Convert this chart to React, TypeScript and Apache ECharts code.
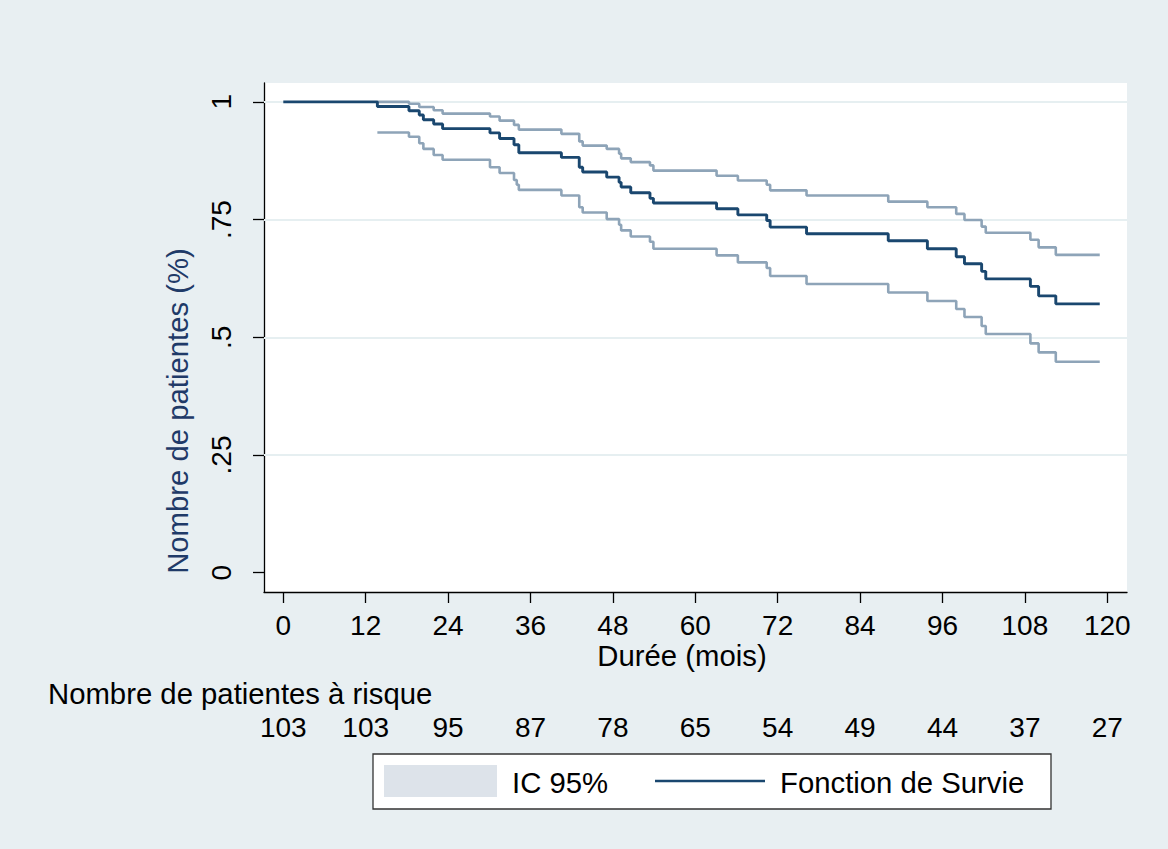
import React, { useEffect, useRef } from "react";
import * as echarts from "echarts";

const xTicks = [0, 12, 24, 36, 48, 60, 72, 84, 96, 108, 120];
const yTicks = [0, 0.25, 0.5, 0.75, 1];
const gridLevels = [0.25, 0.5, 0.75, 1];
const atRisk = [103, 103, 95, 87, 78, 65, 54, 49, 44, 37, 27];

const survival: [number, number][] = [
  [0, 1], [13.7, 0.99], [18.3, 0.981], [19.8, 0.972], [20.4, 0.962], [21.9, 0.953],
  [23.2, 0.943], [30.1, 0.934], [31.5, 0.922], [33.6, 0.909], [34.3, 0.892],
  [40.5, 0.882], [43.1, 0.861], [43.6, 0.851], [47.1, 0.84], [48.9, 0.829],
  [49.2, 0.819], [50.6, 0.807], [53.4, 0.795], [53.9, 0.785], [63.1, 0.773],
  [66.2, 0.76], [70.4, 0.748], [70.9, 0.734], [76.2, 0.72], [88.1, 0.705],
  [93.8, 0.688], [98.0, 0.671], [99.2, 0.656], [101.7, 0.64], [102.3, 0.624],
  [108.8, 0.608], [110.0, 0.588], [112.5, 0.571], [118.9, 0.571],
];

const upperCI: [number, number][] = [
  [13.7, 1.0], [18.3, 0.996], [19.8, 0.989], [21.9, 0.982], [23.2, 0.975],
  [30.1, 0.969], [31.5, 0.96], [33.6, 0.951], [34.3, 0.941], [40.5, 0.932],
  [43.1, 0.916], [43.6, 0.907], [47.1, 0.9], [48.9, 0.89], [49.2, 0.88],
  [50.6, 0.872], [53.4, 0.865], [53.9, 0.854], [63.1, 0.843], [66.2, 0.833],
  [70.4, 0.824], [70.9, 0.812], [76.2, 0.801], [88.1, 0.788], [93.8, 0.776],
  [98.0, 0.762], [99.2, 0.749], [101.7, 0.735], [102.3, 0.722], [108.8, 0.707],
  [110.0, 0.691], [112.5, 0.675], [118.9, 0.675],
];

const lowerCI: [number, number][] = [
  [13.7, 0.935], [18.3, 0.926], [19.8, 0.912], [20.4, 0.9], [21.9, 0.887],
  [23.2, 0.877], [30.1, 0.861], [31.5, 0.849], [33.6, 0.834], [34.0, 0.824],
  [34.3, 0.813], [40.5, 0.801], [43.1, 0.776], [43.6, 0.765], [47.1, 0.751],
  [48.9, 0.739], [49.2, 0.727], [50.6, 0.714], [53.4, 0.703], [53.9, 0.688],
  [63.1, 0.674], [66.2, 0.659], [70.4, 0.647], [70.9, 0.63], [76.2, 0.613],
  [88.1, 0.595], [93.8, 0.577], [98.0, 0.56], [99.2, 0.543], [101.7, 0.524],
  [102.3, 0.507], [108.8, 0.487], [110.0, 0.468], [112.5, 0.448], [118.9, 0.448],
];

const BG = "#e8eff2";
const NAVY = "#1a476f";
const CI_COLOR = "#8ea4b8";
const FONT = "'Liberation Sans', Arial, sans-serif";
const TXT = 29.3;

export default function App() {
  const ref = useRef<HTMLDivElement>(null);
  useEffect(() => {
    if (!ref.current) return;
    const chart = echarts.init(ref.current, undefined, { renderer: "svg" });
    const fmtY = (v: number) =>
      v === 0 ? "0" : v === 1 ? "1" : String(v).replace(/^0/, "");
    chart.setOption({
      animation: false,
      backgroundColor: BG,
      textStyle: { fontFamily: FONT },
      grid: {
        left: 264,
        top: 83,
        width: 863,
        height: 509,
        show: true,
        backgroundColor: "#ffffff",
        borderWidth: 0,
        containLabel: false,
      },
      xAxis: [
        {
          type: "value",
          min: -2.81,
          max: 122.87,
          axisLine: { show: true, onZero: false, lineStyle: { color: "#000", width: 1.3 } },
          axisTick: {
            show: true,
            customValues: xTicks,
            length: 11,
            lineStyle: { color: "#000", width: 1.3 },
          },
          axisLabel: {
            customValues: xTicks,
            fontSize: 28,
            color: "#000",
            margin: 19,
            fontFamily: FONT,
          },
          splitLine: { show: false },
        },
        {
          type: "value",
          position: "bottom",
          min: -2.81,
          max: 122.87,
          offset: 102,
          axisLine: { show: false },
          axisTick: { show: false },
          axisLabel: {
            customValues: xTicks,
            fontSize: 28,
            color: "#000",
            margin: 19,
            fontFamily: FONT,
            formatter: (v: number) => String(atRisk[Math.round(v / 12)]),
          },
          splitLine: { show: false },
        },
      ],
      yAxis: {
        type: "value",
        min: -0.041,
        max: 1.04,
        axisLine: { show: true, onZero: false, lineStyle: { color: "#000", width: 1.3 } },
        axisTick: {
          show: true,
          customValues: yTicks,
          length: 11,
          lineStyle: { color: "#000", width: 1.3 },
        },
        axisLabel: {
          customValues: yTicks,
          rotate: 90,
          fontSize: 28,
          color: "#000",
          margin: 29,
          fontFamily: FONT,
          formatter: fmtY,
        },
        splitLine: { show: false },
      },
      series: [
        {
          name: "IC 95% haut",
          type: "line",
          step: "end",
          data: upperCI,
          showSymbol: false,
          lineStyle: { color: CI_COLOR, width: 2.6 },
          itemStyle: { color: CI_COLOR },
          markLine: {
            silent: true,
            z: 1,
            symbol: ["none", "none"],
            label: { show: false },
            lineStyle: { color: "#e6eff1", width: 2, type: "solid" },
            data: gridLevels.map((v) => ({ yAxis: v })),
          },
          z: 2,
        },
        {
          name: "IC 95% bas",
          type: "line",
          step: "end",
          data: lowerCI,
          showSymbol: false,
          lineStyle: { color: CI_COLOR, width: 2.6 },
          itemStyle: { color: CI_COLOR },
          z: 2,
        },
        {
          name: "Fonction de Survie",
          type: "line",
          step: "end",
          data: survival,
          showSymbol: false,
          lineStyle: { color: NAVY, width: 2.9 },
          itemStyle: { color: NAVY },
          z: 3,
        },
      ],
      graphic: [
        {
          type: "text",
          x: 177,
          y: 411,
          rotation: Math.PI / 2,
          style: {
            text: "Nombre de patientes (%)",
            fontSize: TXT,
            fontFamily: FONT,
            fill: "#1f3a68",
            align: "center",
            verticalAlign: "middle",
          },
        },
        {
          type: "text",
          x: 682,
          y: 655,
          style: {
            text: "Durée (mois)",
            fontSize: TXT,
            fontFamily: FONT,
            fill: "#000",
            align: "center",
            verticalAlign: "middle",
          },
        },
        {
          type: "text",
          x: 48,
          y: 693,
          style: {
            text: "Nombre de patientes à risque",
            fontSize: TXT,
            fontFamily: FONT,
            fill: "#000",
            align: "left",
            verticalAlign: "middle",
          },
        },
        {
          type: "rect",
          shape: { x: 373, y: 754, width: 678, height: 55 },
          style: { fill: "#ffffff", stroke: "#333333", lineWidth: 1.3 },
        },
        {
          type: "rect",
          shape: { x: 384, y: 765, width: 113, height: 32 },
          style: { fill: "#dde3ea" },
        },
        {
          type: "text",
          x: 512,
          y: 782,
          style: {
            text: "IC 95%",
            fontSize: TXT,
            fontFamily: FONT,
            fill: "#000",
            align: "left",
            verticalAlign: "middle",
          },
        },
        {
          type: "line",
          shape: { x1: 655, y1: 781, x2: 765, y2: 781 },
          style: { stroke: NAVY, lineWidth: 2.5 },
        },
        {
          type: "text",
          x: 780,
          y: 782,
          style: {
            text: "Fonction de Survie",
            fontSize: TXT,
            fontFamily: FONT,
            fill: "#000",
            align: "left",
            verticalAlign: "middle",
          },
        },
      ],
    });
    return () => chart.dispose();
  }, []);
  return (
    <div
      ref={ref}
      style={{ position: "absolute", left: 0, top: 0, width: 1168, height: 849 }}
    />
  );
}
